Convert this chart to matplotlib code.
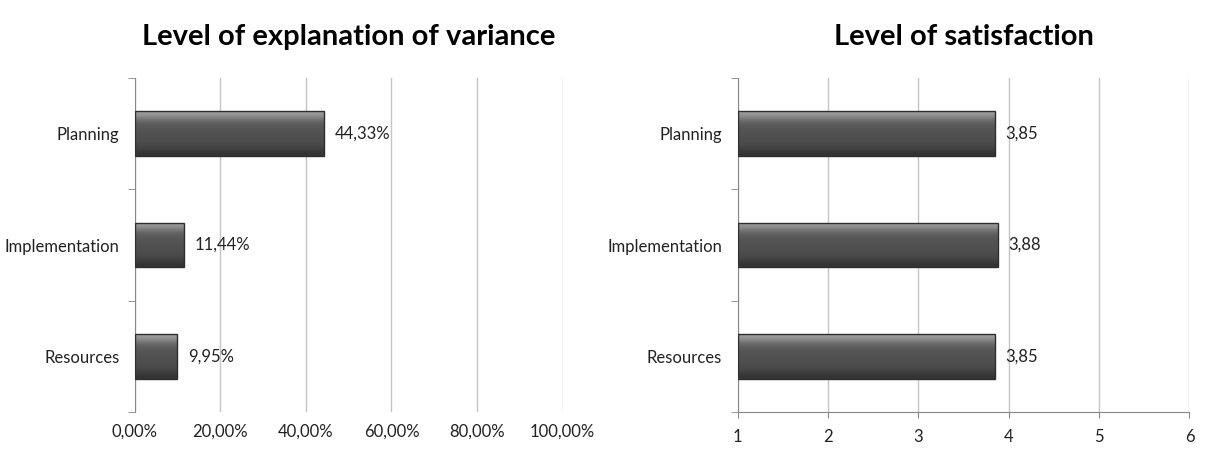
import matplotlib.pyplot as plt
import numpy as np

categories = ["Resources", "Implementation", "Planning"]
variance_pct = [9.95, 11.44, 44.33]
satisfaction = [3.85, 3.88, 3.85]
variance_ticks = [0, 20, 40, 60, 80, 100]
satisfaction_ticks = [1, 2, 3, 4, 5, 6]

plt.rcParams['font.family'] = ['Lato', 'DejaVu Sans']

fig = plt.figure(figsize=(12.15, 4.53), dpi=100)
ax1 = fig.add_axes([0.111, 0.09, 0.352, 0.738])
ax2 = fig.add_axes([0.607, 0.09, 0.372, 0.738])

# vertical gradient (bottom -> top) used to fake the bevelled Excel bars
grad = np.array([0.20, 0.24, 0.28, 0.30, 0.31, 0.32, 0.33, 0.35, 0.40, 0.52, 0.62]).reshape(-1, 1)


def style_axes(ax, ticks, xlim, fmt, title, bottom_spine):
    ax.set_xlim(*xlim)
    ax.set_ylim(-0.5, 2.5)
    ax.set_xticks(ticks)
    ax.set_xticklabels([fmt(t) for t in ticks], fontsize=12, color='#222222')
    ax.set_yticks(range(len(categories)))
    ax.set_yticklabels(categories, fontsize=12, color='#222222')
    ax.set_yticks([-0.5, 0.5, 1.5, 2.5], minor=True)
    ax.tick_params(axis='y', which='major', length=0, pad=11)
    ax.tick_params(axis='y', which='minor', length=5, color='#888888')
    ax.tick_params(axis='x', length=4 if bottom_spine else 0, color='#888888', pad=8)
    ax.grid(axis='x', color='#c4c4c4', linewidth=1)
    ax.set_axisbelow(True)
    for s in ['top', 'right']:
        ax.spines[s].set_visible(False)
    ax.spines['left'].set_color('#888888')
    ax.spines['bottom'].set_visible(bottom_spine)
    ax.spines['bottom'].set_color('#888888')
    ax.set_title(title, fontsize=21, fontweight='bold', pad=24)


def gradient_bars(ax, bars):
    for b in bars:
        b.set_facecolor('none')
        x0, y0 = b.get_x(), b.get_y()
        w, h = b.get_width(), b.get_height()
        im = ax.imshow(grad, cmap='gray', vmin=0, vmax=1, aspect='auto',
                       interpolation='bicubic',
                       extent=[x0, x0 + w, y0, y0 + h], zorder=2, origin='lower')
        im.set_clip_path(b)
        b.set_zorder(3)
        b.set_edgecolor('#2e2e2e')
        b.set_linewidth(1)


style_axes(ax1, variance_ticks, (0, 100), lambda t: f"{t:.2f}%".replace('.', ','),
           "Level of explanation of variance", False)
bars1 = ax1.barh(range(len(categories)), variance_pct, height=0.4)
gradient_bars(ax1, bars1)
for i, v in enumerate(variance_pct):
    ax1.text(v + 2.5, i, f"{v:.2f}%".replace('.', ','), va='center', fontsize=12, color='#222222')

style_axes(ax2, satisfaction_ticks, (1, 6), lambda t: str(t),
           "Level of satisfaction", True)
bars2 = ax2.barh(range(len(categories)), np.array(satisfaction) - 1, left=1, height=0.4)
gradient_bars(ax2, bars2)
for i, v in enumerate(satisfaction):
    ax2.text(v + 0.11, i, f"{v:.2f}".replace('.', ','), va='center', fontsize=12, color='#222222')

ax1.set_xlim(0, 100)
ax1.set_ylim(-0.5, 2.5)
ax2.set_xlim(1, 6)
ax2.set_ylim(-0.5, 2.5)

fig.savefig("out.png", dpi=100)
